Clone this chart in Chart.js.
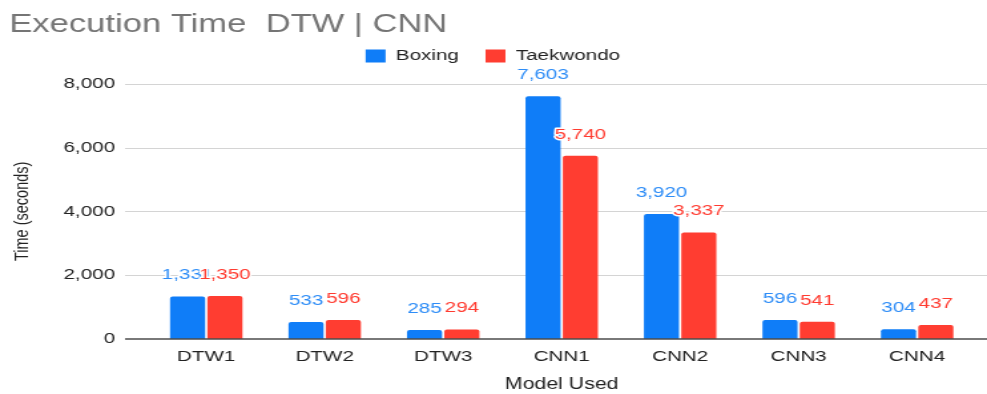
<!DOCTYPE html>
<html>
<head>
<meta charset="utf-8">
<title>Execution Time DTW | CNN</title>
<script src="https://cdn.jsdelivr.net/npm/chart.js@4.4.1/dist/chart.umd.min.js"></script>
<style>
  html, body { margin: 0; padding: 0; background: #fff; overflow: hidden; }
  /* the chart is drawn narrow and stretched sideways to the full window */
  #wrap { width: 742px; height: 394px; transform: scaleX(1.3302); transform-origin: 0 0; }
</style>
</head>
<body>
<div id="wrap"><canvas id="timeChart" width="742" height="394"></canvas></div>
<script>
// Execution time per model
const models = ['DTW1', 'DTW2', 'DTW3', 'CNN1', 'CNN2', 'CNN3', 'CNN4'];
const boxingTimes = [1331, 533, 285, 7603, 3920, 596, 304];
const taekwondoTimes = [1350, 596, 294, 5740, 3337, 541, 437];
const yTicks = [0, 2000, 4000, 6000, 8000];

const FONT = '"Liberation Sans", Arial, Helvetica, sans-serif';
const barBlue = '#0F7DF8';
const barRed = '#FF3D31';
const labelColors = ['#2E8DF7', '#FF3B30'];

// empty strip between the legend and the plot
const legendGap = {
    id: 'legendGap',
    beforeInit(chart) {
        Chart.layouts.addBox(chart, {
            position: 'top',
            weight: 500,
            fullSize: true,
            options: {},
            isHorizontal() { return true; },
            update(maxWidth) {
                this.width = maxWidth;
                this.height = 10;
            },
            draw() {}
        });
    }
};

// horizontal grid lines run wider than the bars
const gridLines = {
    id: 'gridLines',
    beforeDatasetsDraw(chart) {
        const { ctx, scales: { y } } = chart;
        ctx.save();
        ctx.strokeStyle = '#d4d4d4';
        ctx.lineWidth = 1;
        yTicks.forEach(v => {
            if (v === 0) return;
            const py = Math.round(y.getPixelForValue(v)) + 0.5;
            ctx.beginPath();
            ctx.moveTo(94, py);
            ctx.lineTo(chart.width, py);
            ctx.stroke();
        });
        ctx.restore();
    },
    afterDatasetsDraw(chart) {
        const { ctx, scales: { y } } = chart;
        const py = y.getPixelForValue(0);
        ctx.save();
        ctx.strokeStyle = '#4d4d4d';
        ctx.lineWidth = 1.5;
        ctx.beginPath();
        ctx.moveTo(94, py);
        ctx.lineTo(chart.width, py);
        ctx.stroke();
        ctx.restore();
    }
};

// value labels over each bar, with a white halo
const valueLabels = {
    id: 'valueLabels',
    afterDatasetsDraw(chart) {
        const { ctx } = chart;
        ctx.save();
        ctx.font = '15.5px ' + FONT;
        ctx.textAlign = 'center';
        ctx.textBaseline = 'middle';
        ctx.lineJoin = 'round';
        chart.data.datasets.forEach((ds, i) => {
            const meta = chart.getDatasetMeta(i);
            meta.data.forEach((bar, j) => {
                const text = ds.data[j].toLocaleString('en-US');
                const ty = bar.y - 21.5;
                ctx.strokeStyle = '#fff';
                ctx.lineWidth = 3;
                ctx.strokeText(text, bar.x, ty);
                ctx.fillStyle = labelColors[i];
                ctx.fillText(text, bar.x, ty);
            });
        });
        ctx.restore();
    }
};

const timeChart = new Chart(document.getElementById('timeChart'), {
    type: 'bar',
    data: {
        labels: models,
        datasets: [
            {
                label: 'Boxing',
                data: boxingTimes,
                backgroundColor: barBlue,
                borderRadius: 2,
                categoryPercentage: 0.63,
                barPercentage: 0.94
            },
            {
                label: 'Taekwondo',
                data: taekwondoTimes,
                backgroundColor: barRed,
                borderRadius: 2,
                categoryPercentage: 0.63,
                barPercentage: 0.94
            }
        ]
    },
    options: {
        responsive: false,
        animation: false,
        devicePixelRatio: 1,
        layout: { padding: { left: 7, right: 8, top: 0, bottom: 0 } },
        plugins: {
            title: {
                display: true,
                text: 'Execution Time  DTW | CNN',
                align: 'start',
                color: '#757575',
                font: { family: FONT, size: 26, weight: 'normal' },
                padding: { top: 9, bottom: -12 }
            },
            legend: {
                position: 'top',
                labels: {
                    boxWidth: 15,
                    boxHeight: 13,
                    color: '#222',
                    padding: 20,
                    font: { family: FONT, size: 15.5 }
                }
            },
            tooltip: { enabled: false }
        },
        scales: {
            x: {
                grid: { display: false, drawTicks: false },
                border: { display: false },
                ticks: { color: '#222', padding: 8, font: { family: FONT, size: 15.5 } },
                title: {
                    display: true,
                    text: 'Model Used',
                    color: '#222',
                    padding: { top: -1, bottom: 0 },
                    font: { family: FONT, size: 16 }
                },
                afterFit(scale) { scale.height = 55; }
            },
            y: {
                min: 0,
                max: 8000,
                grid: { display: false, drawTicks: false },
                border: { display: false },
                afterBuildTicks(scale) { scale.ticks = yTicks.map(v => ({ value: v })); },
                ticks: { color: '#222', padding: 24, font: { family: FONT, size: 15.5 } },
                title: {
                    display: true,
                    text: 'Time (seconds)',
                    color: '#222',
                    padding: { top: 1.5, bottom: 0 },
                    font: { family: FONT, size: 14.5 }
                },
                afterFit(scale) { scale.width = 103.5; }
            }
        }
    },
    plugins: [legendGap, gridLines, valueLabels]
});
</script>
</body>
</html>
